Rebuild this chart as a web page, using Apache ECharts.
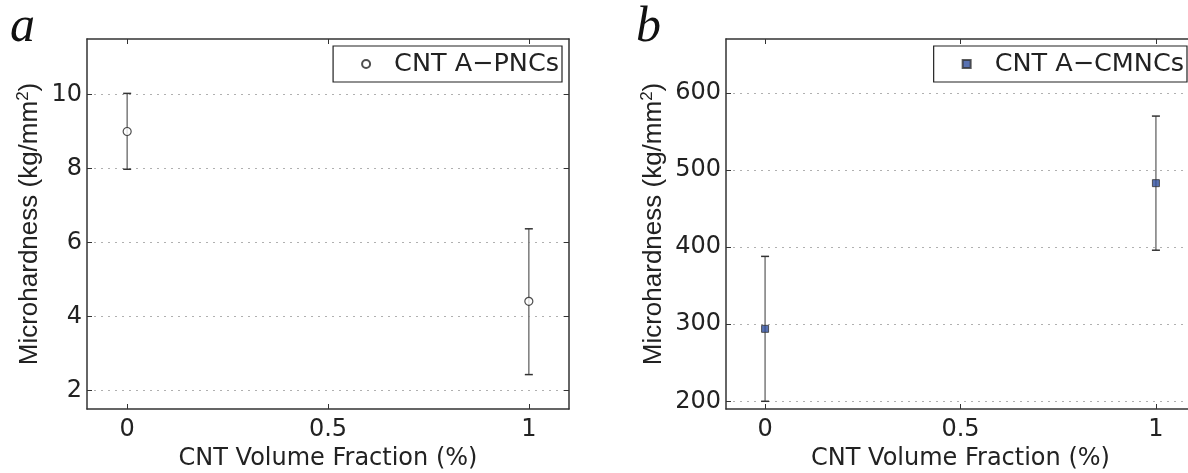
<!DOCTYPE html>
<html>
<head>
<meta charset="utf-8">
<script src="https://cdn.jsdelivr.net/npm/echarts@6/dist/echarts.min.js"></script>
<style>
html,body{margin:0;padding:0;background:#fff;}
#c{width:1188px;height:473px;}
</style>
</head>
<body>
<div id="c"></div>
<script>
// Panel a data
const xA = [0, 1];
const meanA = [9.0, 4.41];
const lowA = [7.98, 2.43];
const highA = [10.03, 6.37];
// Panel b data
const xB = [0, 1];
const meanB = [294, 483];
const lowB = [200, 396];
const highB = [388, 570];
// ticks
const xTicks = [0, 0.5, 1];
const yTicksA = [2, 4, 6, 8, 10];
const yTicksB = [200, 300, 400, 500, 600];
const nameA = 'CNT A\u2212PNCs';
const nameB = 'CNT A\u2212CMNCs';
const xTitle = 'CNT Volume Fraction (%)';

const FONT = 'DejaVu Sans';
const YFONT = 'Liberation Sans';
const FS = 24;
const chart = echarts.init(document.getElementById('c'));

function errItem(params, api) {
  const x = api.value(0), lo = api.value(1), hi = api.value(2);
  const p1 = api.coord([x, hi]);
  const p2 = api.coord([x, lo]);
  const cap = 4;
  return {type: 'group', children: [
    {type: 'line', shape: {x1: p1[0], y1: p1[1], x2: p2[0], y2: p2[1]}, style: {stroke: '#7a7a7a', lineWidth: 1.5}},
    {type: 'line', shape: {x1: p1[0]-cap, y1: p1[1], x2: p1[0]+cap, y2: p1[1]}, style: {stroke: '#333', lineWidth: 1.5}},
    {type: 'line', shape: {x1: p2[0]-cap, y1: p2[1], x2: p2[0]+cap, y2: p2[1]}, style: {stroke: '#333', lineWidth: 1.5}}
  ]};
}

function xAxisPair(gi) {
  const common = {
    type: 'value', gridIndex: gi, min: -0.1, max: 1.1,
    splitLine: {show: false},
    axisLine: {show: true, onZero: false, lineStyle: {color: '#333', width: 1.5}},
    axisTick: {show: true, inside: true, length: 5, lineStyle: {color: '#333'}, customValues: xTicks},
  };
  return [
    Object.assign({}, common, {position: 'bottom',
      axisLabel: {show: true, customValues: xTicks, color: '#222', fontFamily: FONT, fontSize: FS, margin: 9,
        formatter: v => String(v)},
      name: xTitle, nameLocation: 'middle', nameGap: 34,
      nameTextStyle: {color: '#222', fontFamily: FONT, fontSize: FS}}),
    Object.assign({}, common, {position: 'top', axisLabel: {show: false}})
  ];
}
function yAxisPair(gi, min, max, ticks, gap) {
  const common = {
    type: 'value', gridIndex: gi, min: min, max: max,
    axisLine: {show: true, onZero: false, lineStyle: {color: '#333', width: 1.5}},
    axisTick: {show: true, inside: true, length: 5, lineStyle: {color: '#333'}, customValues: ticks},
  };
  const nameRich = '{m|Microhardness (kg/mm}{s|2}{m|)}';
  return [
    Object.assign({}, common, {position: 'left',
      splitLine: {show: true, lineStyle: {color: '#b0b0b0', type: [2, 5], width: 1}},
      axisLabel: {show: true, customValues: ticks, color: '#222', fontFamily: FONT, fontSize: FS, margin: 5},
      name: nameRich, nameLocation: 'middle', nameGap: gap,
      nameTextStyle: {rich: {
        m: {color: '#222', fontFamily: YFONT, fontSize: 26},
        s: {color: '#222', fontFamily: YFONT, fontSize: 17, padding: [0, 0, 12, 0]}
      }}}),
    Object.assign({}, common, {position: 'right', axisLabel: {show: false}, splitLine: {show: false}})
  ];
}

function legendCfg(name, right) {
  return {data: [name], right: right, top: 46, orient: 'vertical',
    borderColor: '#222', borderWidth: 1.2, padding: [4, 3, 4, 28], itemWidth: 8, itemHeight: 8, itemGap: 0,
    textStyle: {fontFamily: FONT, fontSize: 25.5, color: '#222', lineHeight: 28, padding: [0, 0, 0, 19]}};
}

const option = {
  animation: false,
  backgroundColor: '#fff',
  grid: [
    {left: 87, top: 39, width: 482, height: 370, containLabel: false, outerBoundsMode: 'none'},
    {left: 726, top: 39, width: 469, height: 370, containLabel: false, outerBoundsMode: 'none'}
  ],
  xAxis: [].concat(xAxisPair(0), xAxisPair(1)),
  yAxis: [].concat(yAxisPair(0, 1.5, 11.5, yTicksA, 43), yAxisPair(1, 190, 670, yTicksB, 58)),
  legend: [legendCfg(nameA, 1188 - 562), legendCfg(nameB, 1)],
  graphic: [
    {type: 'text', x: 10, y: 28, style: {text: 'a', font: 'italic 50px "Liberation Serif"', fill: '#111', verticalAlign: 'middle'}},
    {type: 'text', x: 636, y: 28, style: {text: 'b', font: 'italic 50px "Liberation Serif"', fill: '#111', verticalAlign: 'middle'}}
  ],
  series: [
    {type: 'custom', xAxisIndex: 0, yAxisIndex: 0, renderItem: errItem,
      data: xA.map((x, i) => [x, lowA[i], highA[i]]), z: 2, silent: true},
    {type: 'scatter', name: nameA, xAxisIndex: 0, yAxisIndex: 0, symbol: 'circle', symbolSize: 8,
      itemStyle: {color: '#fff', borderColor: '#222', borderWidth: 1.2},
      data: xA.map((x, i) => [x, meanA[i]]), z: 3},
    {type: 'custom', xAxisIndex: 2, yAxisIndex: 2, renderItem: errItem,
      data: xB.map((x, i) => [x, lowB[i], highB[i]]), z: 2, silent: true},
    {type: 'scatter', name: nameB, xAxisIndex: 2, yAxisIndex: 2, symbol: 'rect', symbolSize: 7,
      itemStyle: {color: '#2f4f9f', borderColor: '#333', borderWidth: 1},
      data: xB.map((x, i) => [x, meanB[i]]), z: 3}
  ]
};
chart.setOption(option);
</script>
</body>
</html>
